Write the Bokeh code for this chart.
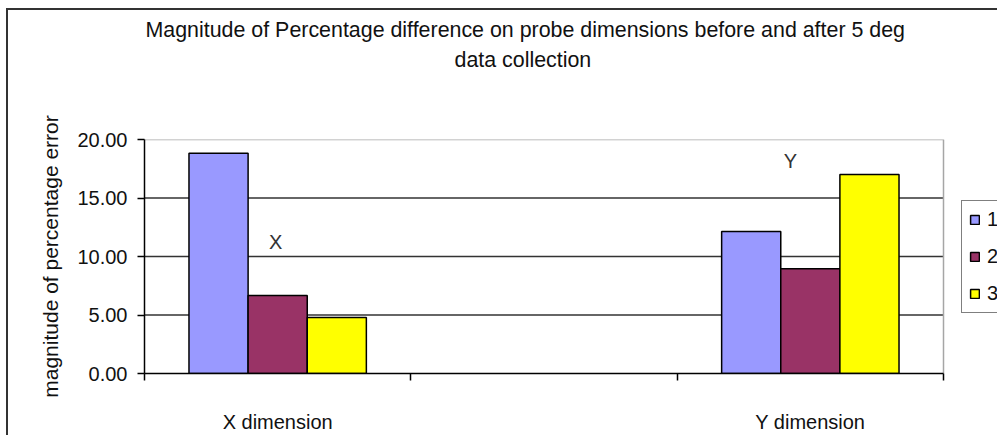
from bokeh.plotting import figure
from bokeh.models import (Range1d, LinearAxis, FixedTicker, Legend, LegendItem,
                          NumeralTickFormatter, Title, ColumnDataSource)
from bokeh.transform import dodge
from bokeh.embed import file_html
from bokeh.resources import INLINE
from bokeh.core.properties import value

# ---- data ----
categories = ["X dimension", "Y dimension"]
slots = ["X dimension", "", "Y dimension"]
series_names = ["1", "2", "3"]
series1 = [18.82, 12.13]
series2 = [6.66, 8.95]
series3 = [4.79, 17.00]
y_ticks = [0, 5, 10, 15, 20]
grid_ticks = [5, 10, 15]
marker_letters = ["X", "Y"]
colors = ["#9999FF", "#993366", "#FFFF00"]

FONT = "Liberation Sans"
Y_MAX = 20

n_slots = len(slots)
slot_centres = [i + 0.5 for i in range(n_slots)]
slot_edges = list(range(n_slots + 1))
cat_x = [slots.index(c) + 0.5 for c in categories]

# plot area is 799 px wide for the three slots; the frame runs on to the
# canvas edge (853 px) so the legend can sit to the right of the plot area
x_end = n_slots * 853 / 799

p = figure(width=997, height=435,
           x_range=Range1d(0, x_end), y_range=Range1d(0, Y_MAX),
           output_backend="svg", toolbar_location=None,
           min_border_left=144, min_border_right=0,
           min_border_top=139, min_border_bottom=61)
p.background_fill_color = "white"
p.border_fill_color = None
p.outline_line_color = None
# chart-area border (left and top edges visible, as in the cropped original)
p.styles = {"background": "linear-gradient(#333333, #333333) 6px 8px / 2px 100% no-repeat, "
                          "linear-gradient(#333333, #333333) 6px 8px / 100% 2px no-repeat, white"}

# titles: added titles stack outward from the frame, p.title is outermost
p.title.text = "Magnitude of Percentage difference on probe dimensions before and after 5 deg"
p.title.align = "left"
p.title.offset = 1
p.title.text_font = FONT
p.title.text_font_size = "21.4px"
p.title.text_font_style = "normal"
p.title.text_color = "#111111"
p.title.standoff = 4
p.add_layout(Title(text=" ", align="left", text_font=FONT, text_font_size="21.4px",
                   standoff=40), "above")
p.add_layout(Title(text="data collection", align="left", offset=310, text_font=FONT,
                   text_font_size="21.4px", text_font_style="normal",
                   text_color="#111111", standoff=4), "above")

# y axis
yax = p.yaxis[0]
yax.ticker = FixedTicker(ticks=y_ticks)
yax.formatter = NumeralTickFormatter(format="0.00")
yax.major_label_text_font = FONT
yax.major_label_text_font_size = "20px"
yax.major_label_text_color = "#111111"
yax.major_label_standoff = 10
yax.major_tick_out = 7
yax.major_tick_in = 0
yax.major_tick_line_width = 1.5
yax.major_tick_line_color = "black"
yax.minor_tick_line_color = None
yax.axis_line_color = "black"
yax.axis_line_width = 1.5
yax.axis_label = "magnitude of percentage error"
yax.axis_label_text_font = FONT
yax.axis_label_text_font_size = "21px"
yax.axis_label_text_font_style = "normal"
yax.axis_label_text_color = "#111111"
yax.axis_label_standoff = 12

p.ygrid.visible = False
p.xgrid.visible = False

# x axes: boundary ticks (main axis) + category labels (second axis)
xax = p.xaxis[0]
xax.bounds = (0, n_slots)
xax.ticker = FixedTicker(ticks=slot_edges)
xax.major_label_overrides = {e: "" for e in slot_edges}
xax.major_tick_out = 7
xax.major_tick_in = 0
xax.major_tick_line_width = 1.5
xax.major_tick_line_color = "black"
xax.minor_tick_line_color = None
xax.axis_line_color = "black"
xax.axis_line_width = 1.5
xax.major_label_standoff = 0
xax.major_label_text_font_size = "1px"

cat_axis = LinearAxis(ticker=FixedTicker(ticks=slot_centres),
                      major_label_overrides={c: s for c, s in zip(slot_centres, slots)},
                      axis_line_color=None, major_tick_line_color=None,
                      minor_tick_line_color=None, major_label_standoff=24,
                      major_label_text_font=FONT, major_label_text_font_size="20px",
                      major_label_text_color="#111111")
p.add_layout(cat_axis, "below")

# horizontal gridlines and plot-area border, limited to the plot area
p.segment(x0=0, x1=n_slots, y0=grid_ticks, y1=grid_ticks,
          line_color="#333333", line_width=1.5)
p.line(x=[0, n_slots, n_slots], y=[Y_MAX, Y_MAX, 0], line_color="#a6a6a6", line_width=1.5)

# bars
source = ColumnDataSource(dict(x=cat_x, s1=series1, s2=series2, s3=series3))
bar_renderers = []
for i, (key, color) in enumerate(zip(["s1", "s2", "s3"], colors)):
    r = p.vbar(x=dodge("x", (i - 1) * 0.222), top=key, width=0.222,
               source=source, fill_color=color, line_color="black", line_width=1.5)
    bar_renderers.append(r)

# letter labels inside the plot
p.text(x=cat_x, y=[11.27, 18.2], text=marker_letters, x_offset=[-2, -20],
       text_align="center", text_baseline="middle", text_font=value(FONT),
       text_font_size="20px", text_color="#333333")

# legend, to the right of the plot area, running off the canvas as in the original
lg = Legend(items=[LegendItem(label=n, renderers=[r]) for n, r in zip(series_names, bar_renderers)],
            location=(817, 60), border_line_color="black", border_line_width=1.5,
            background_fill_color="white", background_fill_alpha=1,
            label_text_font=FONT, label_text_font_size="20px", label_text_color="#111111",
            glyph_width=11, glyph_height=11, label_height=22, label_standoff=7,
            spacing=14, padding=7, margin=0)
p.add_layout(lg, "center")

open("out.html", "w").write(file_html(p, INLINE))
